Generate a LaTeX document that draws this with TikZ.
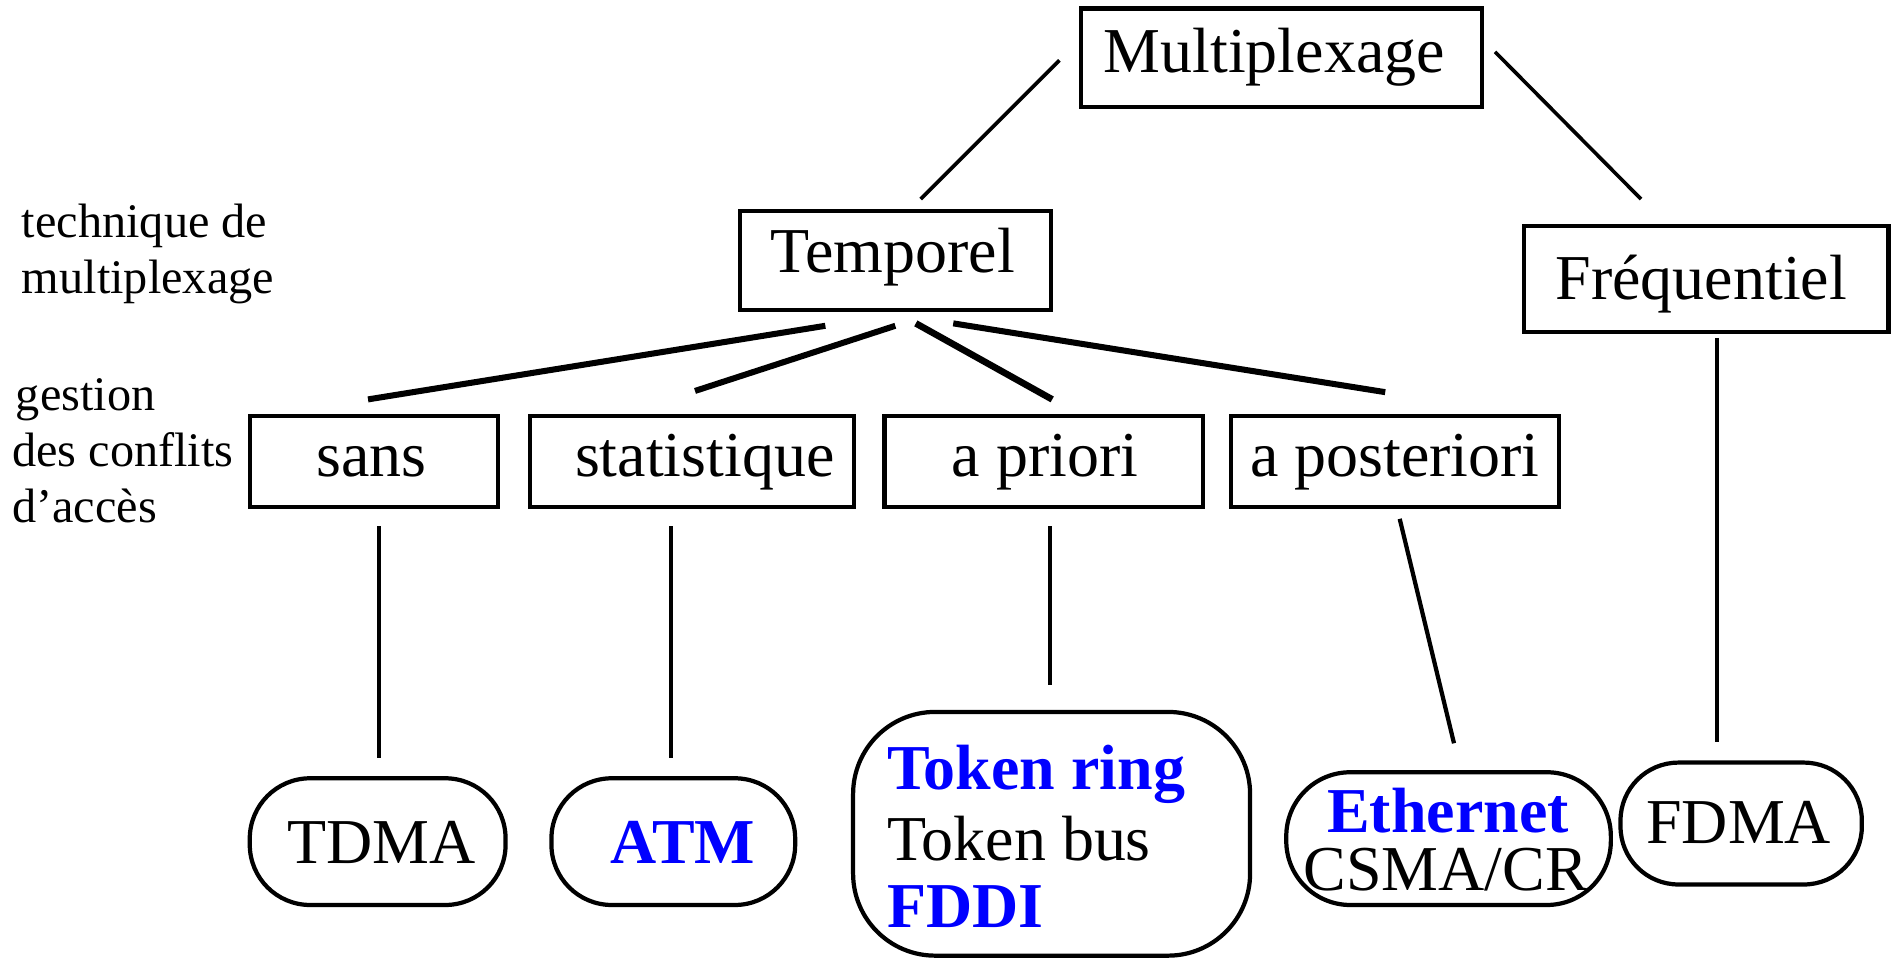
\documentclass[tikz,border=0pt]{standalone}
\usepackage{fontspec}
\setmainfont{Liberation Serif}
\definecolor{tblue}{RGB}{0,0,255}
\begin{document}
\begin{tikzpicture}[x=1pt,y=-1pt,
  box/.style={draw,line width=3.5pt,inner sep=0pt},
  rbox/.style={box,rounded corners=50pt},
  big/.style={font=\fontsize{53}{60}\selectfont,inner sep=0pt,anchor=base},
  bigl/.style={big,anchor=base west},
  small/.style={font=\fontsize{40}{46}\selectfont,inner sep=0pt,anchor=base west},
  bl/.style={text=tblue,font=\fontsize{53}{60}\selectfont\bfseries},
  conn/.style={line width=3pt},
  branch/.style={line width=5pt}]
\useasboundingbox (0,0) rectangle (1568,794);
% boxes
\node[box,minimum width=332pt,minimum height=82pt] (mult) at (1062,48) {};
\node[box,minimum width=258pt,minimum height=82pt] (temp) at (742,216) {};
\node[box,minimum width=302pt,minimum height=88pt] (freq) at (1414,231) {};
\node[box,minimum width=206pt,minimum height=75pt] (sans) at (310,382.5) {};
\node[box,minimum width=269pt,minimum height=75pt] (stat) at (573.5,382.5) {};
\node[box,minimum width=264pt,minimum height=75pt] (apri) at (865,382.5) {};
\node[box,minimum width=272pt,minimum height=75pt] (apost) at (1156,382.5) {};
\node[rbox,minimum width=212pt,minimum height=105pt] (tdma) at (313,697.5) {};
\node[rbox,minimum width=202pt,minimum height=105pt] (atm) at (558,697.5) {};
\node[rbox,rounded corners=68pt,minimum width=329pt,minimum height=202pt] (token) at (871.5,691) {};
\node[rbox,rounded corners=53pt,minimum width=269pt,minimum height=110pt] (eth) at (1200.5,695) {};
\node[rbox,rounded corners=48pt,minimum width=200pt,minimum height=101pt] (fdma) at (1443,682.5) {};
% texts
\node[big] (tmult) at (1056,60) {Multiplexage};
\node[big] (ttemp) at (740,226) {Temporel};
\node[big] (tfreq) at (1410,248.6) {Fréquentiel};
\node[big] (tsans) at (308,395) {sans};
\node[big] (tstat) at (584,395) {statistique};
\node[big] (tapri) at (866,395) {a priori};
\node[big] (tapost) at (1156,395) {a posteriori};
\node[big] (ttdma) at (316,716) {TDMA};
\node[big,bl] (tatm) at (566,716) {ATM};
\node[bigl,bl] (ttr) at (735,654.7) {Token ring};
\node[bigl] (ttb) at (735,712.8) {Token bus};
\node[bigl,bl] (tfddi) at (735,769) {FDDI};
\node[big,bl] (teth) at (1200,689.7) {Ethernet};
\node[big] (tcsma) at (1198,737.6) {CSMA/CR};
\node[big] (tfdma) at (1441,699) {FDMA};
\node[small] (l1) at (18,196.6) {technique de};
\node[small] (l2) at (18,243) {multiplexage};
\node[small] (l3) at (13,340) {gestion};
\node[small] (l4) at (10,386.8) {des conflits};
\node[small] (l5) at (10,433) {d’accès};
% connector ends
\coordinate (m1) at (878,50);   \coordinate (t0) at (763,165);
\coordinate (m2) at (1239,43);  \coordinate (f0) at (1360,165);
\coordinate (ta) at (684,270);  \coordinate (sa) at (305,331);
\coordinate (tb) at (742,270);  \coordinate (sb) at (576,324);
\coordinate (tc) at (759,268);  \coordinate (sc) at (872,331);
\coordinate (td) at (790,268);  \coordinate (sd) at (1148,325);
\coordinate (s1) at (314,436);  \coordinate (e1) at (314,628);
\coordinate (s2) at (556,436);  \coordinate (e2) at (556,628);
\coordinate (s3) at (870,436);  \coordinate (e3) at (870,568);
\coordinate (s4) at (1160,430); \coordinate (e4) at (1205,616);
\coordinate (f1) at (1423,280); \coordinate (e5) at (1423,615);
\draw[conn] (m1) -- (t0);
\draw[conn] (m2) -- (f0);
\draw[branch] (ta) -- (sa);
\draw[branch] (tb) -- (sb);
\draw[branch,line width=5.5pt] (tc) -- (sc);
\draw[branch] (td) -- (sd);
\draw[conn] (s1) -- (e1);
\draw[conn] (s2) -- (e2);
\draw[conn] (s3) -- (e3);
\draw[conn,line width=3.5pt] (s4) -- (e4);
\draw[conn] (f1) -- (e5);
\end{tikzpicture}
\end{document}
